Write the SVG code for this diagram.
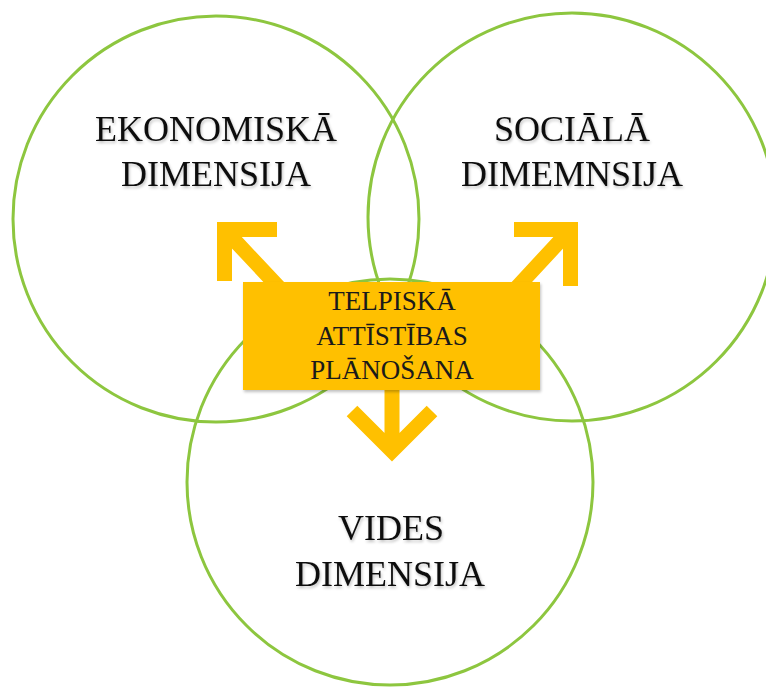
<svg xmlns="http://www.w3.org/2000/svg" width="766" height="687" viewBox="0 0 766 687">
<defs>
<filter id="soft" x="-10%" y="-10%" width="120%" height="130%">
<feGaussianBlur in="SourceAlpha" stdDeviation="1.5"/>
<feOffset dx="1" dy="2" result="b"/>
<feComponentTransfer><feFuncA type="linear" slope="0.25"/></feComponentTransfer>
<feMerge><feMergeNode/><feMergeNode in="SourceGraphic"/></feMerge>
</filter>
</defs>
<style>
.ring{fill:none;stroke:#8dc63f;stroke-width:3}
.lbl{font-family:"Liberation Serif","Times New Roman",serif;font-size:36px;fill:#111;text-anchor:middle}
.clbl{font-family:"Liberation Serif","Times New Roman",serif;font-size:27px;fill:#1a1a1a;text-anchor:middle}
.arr{fill:none;stroke:#ffc000;stroke-width:15;stroke-linejoin:miter;stroke-linecap:butt}
</style>
<rect width="766" height="687" fill="#ffffff"/>
<g id="ekonomiska">
<circle class="ring" cx="216" cy="219" r="203"/>
<text class="lbl" x="216" y="141" filter="url(#soft)">EKONOMISKĀ</text>
<text class="lbl" x="216" y="186" filter="url(#soft)">DIMENSIJA</text>
</g>
<g id="sociala">
<circle class="ring" cx="572" cy="217" r="204"/>
<text class="lbl" x="572" y="141" filter="url(#soft)">SOCIĀLĀ</text>
<text class="lbl" x="572" y="186" filter="url(#soft)">DIMEMNSIJA</text>
</g>
<g id="vides">
<circle class="ring" cx="390" cy="482" r="203"/>
<text class="lbl" x="391" y="540" filter="url(#soft)">VIDES</text>
<text class="lbl" x="390" y="586" filter="url(#soft)">DIMENSIJA</text>
</g>
<g id="connectors">
<path class="arr" d="M277,229.5 L224.5,229.5 L224.5,281 M224.5,229.5 L284,293"/>
<path class="arr" d="M514,229.5 L570.5,229.5 L570.5,286 M570.5,229.5 L508,297"/>
<path class="arr" d="M352,411 L392,451 L432,411 M392,385 L392,451"/>
</g>
<g id="telpiska">
<rect x="243" y="282" width="297" height="108" fill="#ffc000" filter="url(#soft)"/>
<text class="clbl" x="392" y="310">TELPISKĀ</text>
<text class="clbl" x="392" y="345">ATTĪSTĪBAS</text>
<text class="clbl" x="392" y="379">PLĀNOŠANA</text>
</g>
</svg>
